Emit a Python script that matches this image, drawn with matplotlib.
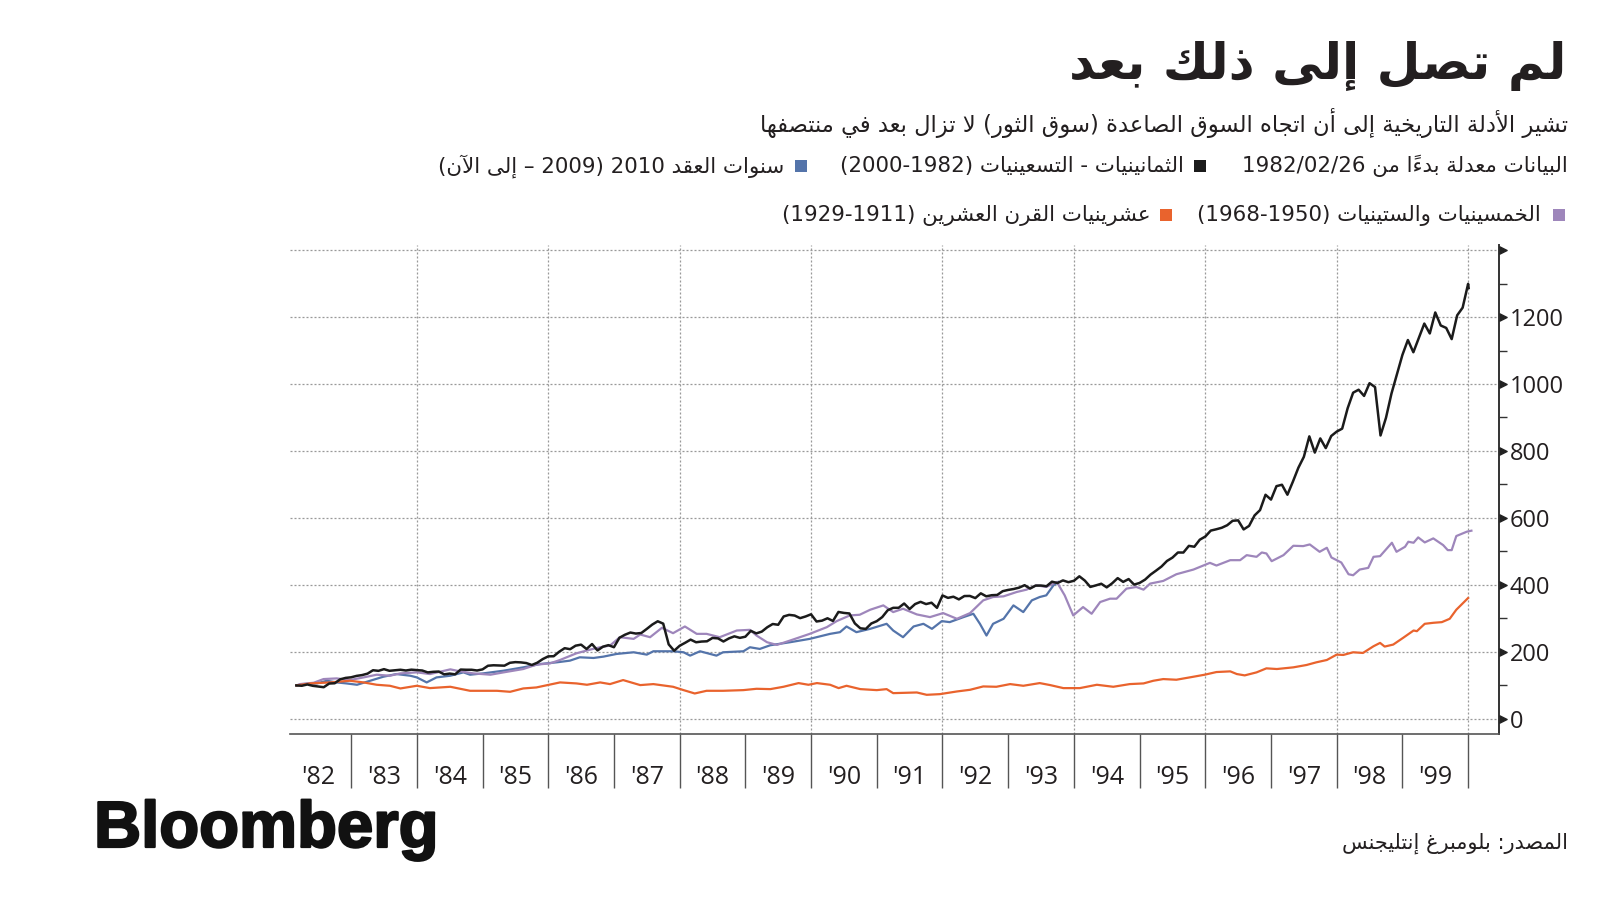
import re
import numpy as np
import matplotlib
matplotlib.use('Agg')
import matplotlib.pyplot as plt
from matplotlib.patches import Rectangle
from matplotlib import patheffects

# ---------------- texts ----------------
title = 'لم تصل إلى ذلك بعد'
subtitle = 'تشير الأدلة التاريخية إلى أن اتجاه السوق الصاعدة (سوق الثور) لا تزال بعد في منتصفها'
note = 'البيانات معدلة بدءاً من 1982/02/26'
name_80s = 'الثمانينيات - التسعينيات (1982-2000)'
name_2010s = 'سنوات العقد 2010 (2009 – إلى الآن)'
name_50s = 'الخمسينيات والستينيات (1950-1968)'
name_20s = 'عشرينيات القرن العشرين (1911-1929)'
source = 'المصدر: بلومبرغ إنتليجنس'

year_labels = ["'82", "'83", "'84", "'85", "'86", "'87", "'88", "'89", "'90",
               "'91", "'92", "'93", "'94", "'95", "'96", "'97", "'98", "'99"]
y_ticks = [0, 200, 400, 600, 800, 1000, 1200, 1400]
y_labels = ['0', '200', '400', '600', '800', '1000', '1200', '']

# ---------------- data (index, 1982/02/26 = 100) ----------------
# 1980s-90s bull market, month ends Feb 1982 .. Dec 1999, then 3 Jan 2000
black_vals = [
    100.0, 99.0, 102.9, 98.9, 96.9, 94.7, 105.7, 106.5, 118.2, 122.5, 124.3,
    128.5, 130.9, 135.2, 145.4, 143.6, 148.6, 143.7, 145.3, 146.8, 144.6, 147.1, 145.8,
    144.5, 138.9, 140.7, 141.5, 133.1, 135.4, 133.2, 147.4, 146.8, 146.8, 144.6, 147.9,
    158.8, 160.2, 159.7, 159.0, 167.6, 169.6, 168.8, 166.8, 161.0, 167.8, 178.7, 186.8,
    187.2, 200.6, 211.2, 208.2, 218.7, 221.8, 208.8, 223.6, 204.5, 215.7, 220.3, 214.1,
    242.3, 251.3, 257.9, 254.9, 256.5, 268.8, 281.7, 291.6, 284.5, 222.6, 203.6, 218.4,
    227.3, 236.8, 228.9, 231.0, 231.8, 241.8, 240.5, 231.2, 240.4, 246.6, 242.0, 245.5,
    263.0, 255.4, 260.7, 273.7, 283.4, 281.1, 306.0, 310.7, 308.7, 300.9, 305.9, 312.4,
    290.9, 293.4, 300.5, 292.5, 319.4, 316.5, 314.9, 285.2, 270.6, 268.8, 284.9, 291.9,
    304.1, 324.5, 331.7, 331.8, 344.6, 328.1, 342.9, 349.6, 342.9, 347.0, 331.7, 368.7,
    361.4, 364.9, 356.9, 366.9, 367.2, 360.8, 375.0, 366.0, 369.4, 370.2, 381.4, 385.2,
    387.9, 392.0, 399.3, 389.2, 398.0, 398.3, 396.2, 409.8, 405.7, 413.6, 408.3, 412.4,
    425.8, 413.0, 394.1, 398.6, 403.6, 392.8, 405.1, 420.4, 409.1, 417.6, 401.1, 406.0,
    415.9, 430.9, 442.7, 455.0, 471.6, 481.6, 496.9, 496.8, 516.7, 514.1, 535.2, 544.5,
    562.3, 566.2, 570.7, 578.3, 591.6, 592.9, 565.8, 576.4, 607.6, 623.5, 669.3, 654.9,
    695.0, 699.2, 669.4, 708.5, 750.0, 782.5, 843.7, 795.2, 837.5, 808.6, 844.7, 857.9,
    866.7, 927.7, 974.1, 982.9, 964.4, 1002.4, 990.8, 846.3, 899.1, 971.3, 1028.8, 1086.8,
    1131.3, 1094.8, 1137.3, 1180.4, 1150.9, 1213.6, 1174.7, 1167.4, 1134.0, 1205.0, 1227.9, 1299.0,
    1286.6,
]
black_t = list(1982 + (np.arange(len(black_vals) - 1) + 2) / 12) + [2000.008]

# 2010s (decimal-year position on the shared axis, value)
blue_t = [1982.17, 1982.27, 1982.48, 1982.63, 1982.78, 1982.93, 1983.09, 1983.29, 1983.49,
          1983.69, 1983.90, 1984.00, 1984.15, 1984.30, 1984.51, 1984.71, 1984.81, 1985.01,
          1985.32, 1985.62, 1985.88, 1986.13, 1986.33, 1986.48, 1986.69, 1986.84, 1987.04,
          1987.30, 1987.50, 1987.60, 1987.90, 1988.06, 1988.16, 1988.31, 1988.56, 1988.66,
          1988.97, 1989.07, 1989.22, 1989.38, 1989.68, 1989.98, 1990.29, 1990.44, 1990.54,
          1990.69, 1990.90, 1991.15, 1991.25, 1991.40, 1991.56, 1991.71, 1991.84, 1991.99,
          1992.11, 1992.32, 1992.47, 1992.57, 1992.67, 1992.77, 1992.93, 1993.08, 1993.23,
          1993.36, 1993.48, 1993.58, 1993.69, 1993.76]
blue_v = [100, 104, 106, 114, 109, 106, 102, 114, 126,
          134, 129, 124, 109, 124, 129, 139, 132, 136,
          144, 154, 164, 169, 174, 184, 182, 186, 194,
          199, 192, 202, 202, 199, 189, 202, 189, 199,
          202, 214, 209, 220, 229, 239, 254, 259, 276,
          259, 269, 284, 264, 244, 276, 284, 269, 292,
          289, 304, 314, 284, 249, 284, 299, 339, 319,
          354, 364, 369, 399, 409]

# 1950s-60s
purple_t = [1982.17, 1982.22, 1982.43, 1982.58, 1982.78, 1982.98, 1983.19, 1983.39, 1983.59,
            1983.75, 1984.00, 1984.20, 1984.51, 1984.66, 1984.86, 1985.12, 1985.32, 1985.62,
            1985.82, 1986.03, 1986.18, 1986.43, 1986.64, 1986.79, 1986.94, 1987.09, 1987.30,
            1987.40, 1987.55, 1987.73, 1987.90, 1988.08, 1988.26, 1988.41, 1988.61, 1988.87,
            1989.07, 1989.17, 1989.33, 1989.48, 1989.68, 1989.98, 1990.24, 1990.39, 1990.59,
            1990.74, 1990.90, 1991.10, 1991.25, 1991.40, 1991.61, 1991.81, 1992.01, 1992.22,
            1992.42, 1992.62, 1992.77, 1992.93, 1993.13, 1993.28, 1993.43, 1993.58, 1993.74,
            1993.86, 1993.99, 1994.14, 1994.27, 1994.40, 1994.55, 1994.65, 1994.80, 1994.95,
            1995.06, 1995.16, 1995.36, 1995.56, 1995.82, 1996.07, 1996.17, 1996.38, 1996.53,
            1996.63, 1996.78, 1996.86, 1996.93, 1997.01, 1997.19, 1997.34, 1997.49, 1997.59,
            1997.74, 1997.85, 1997.92, 1998.07, 1998.18, 1998.25, 1998.35, 1998.48, 1998.56,
            1998.66, 1998.84, 1998.91, 1999.04, 1999.09, 1999.17, 1999.24, 1999.34, 1999.47,
            1999.62, 1999.69, 1999.75, 1999.82, 1999.98, 2000.05]
purple_v = [100, 104, 108, 119, 121, 116, 124, 132, 129,
            136, 139, 134, 148, 142, 136, 132, 139, 149,
            162, 166, 176, 196, 207, 214, 219, 244, 239,
            252, 244, 272, 256, 276, 254, 254, 244, 264,
            266, 249, 229, 221, 234, 254, 274, 292, 309,
            311, 326, 339, 319, 329, 312, 304, 316, 299,
            316, 354, 364, 366, 379, 386, 399, 394, 409,
            369, 309, 334, 314, 349, 359, 359, 389, 394,
            386, 404, 412, 432, 446, 466, 458, 474, 474,
            489, 484, 497, 494, 471, 489, 517, 516, 521,
            499, 511, 482, 467, 432, 429, 446, 451, 484,
            486, 526, 499, 514, 529, 526, 542, 527, 539,
            519, 504, 504, 546, 559, 562]

# 1920s
orange_t = [1982.17, 1982.38, 1982.68, 1982.98, 1983.19, 1983.39, 1983.59, 1983.75, 1984.00,
            1984.20, 1984.51, 1984.81, 1985.22, 1985.42, 1985.62, 1985.82, 1986.18, 1986.43,
            1986.59, 1986.79, 1986.94, 1987.14, 1987.40, 1987.60, 1987.90, 1988.06, 1988.23,
            1988.41, 1988.66, 1988.97, 1989.17, 1989.38, 1989.58, 1989.81, 1989.96, 1990.09,
            1990.29, 1990.42, 1990.54, 1990.75, 1991.00, 1991.15, 1991.25, 1991.61, 1991.76,
            1991.96, 1992.22, 1992.42, 1992.62, 1992.82, 1993.03, 1993.23, 1993.48, 1993.64,
            1993.84, 1994.09, 1994.35, 1994.60, 1994.85, 1995.06, 1995.21, 1995.36, 1995.56,
            1995.82, 1995.99, 1996.17, 1996.38, 1996.48, 1996.60, 1996.78, 1996.93, 1997.09,
            1997.34, 1997.54, 1997.69, 1997.85, 1998.00, 1998.10, 1998.25, 1998.40, 1998.56,
            1998.66, 1998.73, 1998.86, 1999.01, 1999.17, 1999.22, 1999.34, 1999.47, 1999.60,
            1999.72, 1999.82, 2000.00]
orange_v = [100, 106, 109, 114, 109, 102, 99, 91, 99,
            92, 96, 84, 84, 81, 91, 94, 109, 106,
            102, 109, 104, 116, 101, 104, 96, 86, 76,
            84, 84, 86, 90, 89, 96, 107, 102, 107,
            102, 92, 99, 89, 86, 89, 77, 79, 72,
            74, 82, 87, 97, 96, 104, 99, 107, 101,
            92, 92, 102, 96, 104, 106, 114, 119, 117,
            126, 132, 140, 142, 134, 130, 139, 151, 149,
            154, 161, 169, 176, 192, 191, 199, 197, 217,
            227, 216, 222, 242, 264, 262, 284, 287, 289,
            299, 326, 361]

# ---------------- minimal Arabic shaping (matplotlib has no bidi) ----------------
AR = {0x0621: (0xFE80, 1), 0x0622: (0xFE81, 2), 0x0623: (0xFE83, 2), 0x0624: (0xFE85, 2),
      0x0625: (0xFE87, 2), 0x0626: (0xFE89, 4), 0x0627: (0xFE8D, 2), 0x0628: (0xFE8F, 4),
      0x0629: (0xFE93, 2), 0x062A: (0xFE95, 4), 0x062B: (0xFE99, 4), 0x062C: (0xFE9D, 4),
      0x062D: (0xFEA1, 4), 0x062E: (0xFEA5, 4), 0x062F: (0xFEA9, 2), 0x0630: (0xFEAB, 2),
      0x0631: (0xFEAD, 2), 0x0632: (0xFEAF, 2), 0x0633: (0xFEB1, 4), 0x0634: (0xFEB5, 4),
      0x0635: (0xFEB9, 4), 0x0636: (0xFEBD, 4), 0x0637: (0xFEC1, 4), 0x0638: (0xFEC5, 4),
      0x0639: (0xFEC9, 4), 0x063A: (0xFECD, 4), 0x0641: (0xFED1, 4), 0x0642: (0xFED5, 4),
      0x0643: (0xFED9, 4), 0x0644: (0xFEDD, 4), 0x0645: (0xFEE1, 4), 0x0646: (0xFEE5, 4),
      0x0647: (0xFEE9, 4), 0x0648: (0xFEED, 2), 0x0649: (0xFEEF, 2), 0x064A: (0xFEF1, 4)}
LAM_ALEF = {0x0622: 0xFEF5, 0x0623: 0xFEF7, 0x0625: 0xFEF9, 0x0627: 0xFEFB}


def is_mark(c):
    return 0x064B <= ord(c) <= 0x0652


def shape(s):
    n = len(s)
    out, skip = [], set()
    for i, c in enumerate(s):
        if i in skip:
            continue
        if ord(c) not in AR:
            out.append(c)
            continue
        j = i - 1
        while j >= 0 and is_mark(s[j]):
            j -= 1
        join_prev = j >= 0 and ord(s[j]) in AR and AR[ord(s[j])][1] == 4
        k = i + 1
        while k < n and is_mark(s[k]):
            k += 1
        nxt = ord(s[k]) if k < n else None
        if ord(c) == 0x0644 and nxt in LAM_ALEF:
            out.append(chr(LAM_ALEF[nxt] + (1 if join_prev else 0)))
            skip.add(k)
            continue
        base, nf = AR[ord(c)]
        join_next = nf == 4 and nxt in AR and AR[nxt][1] >= 2
        if nf == 1:
            out.append(chr(base))
        elif nf == 2:
            out.append(chr(base + (1 if join_prev else 0)))
        else:
            if join_prev and join_next:
                out.append(chr(base + 3))
            elif join_next:
                out.append(chr(base + 2))
            elif join_prev:
                out.append(chr(base + 1))
            else:
                out.append(chr(base))
    return ''.join(out)


LTR_RUN = re.compile(r'[0-9A-Za-z]+(?:[/.,][0-9A-Za-z]+)*')


def visual(s):
    s = shape(s)
    tokens, i = [], 0
    while i < len(s):
        m = LTR_RUN.match(s, i)
        if m:
            tokens.append(m.group())
            i = m.end()
            continue
        tok = s[i]
        i += 1
        while i < len(s) and is_mark(s[i]):
            tok += s[i]
            i += 1
        tokens.append({'(': ')', ')': '('}.get(tok, tok))
    return ''.join(reversed(tokens))


# ---------------- figure ----------------
W, H = 1600, 900
fig = plt.figure(figsize=(16, 9), dpi=100)
fig.patch.set_facecolor('white')
renderer = fig.canvas.get_renderer()

TXT = '#231f20'
C_BLACK, C_BLUE, C_PURPLE, C_ORANGE = '#1b1b1b', '#5474aa', '#9e86bb', '#e9632d'
GRID = dict(color='#999999', lw=0.9, ls=(0, (1.6, 1.6)), zorder=1)


def px(x, y):
    return x / W, 1 - y / H


def put_ar(s, x_right, y, size, weight='normal'):
    return fig.text(*px(x_right, y), visual(s), ha='right', va='center', fontsize=size,
                    fontweight=weight, color=TXT, family='DejaVu Sans')


def fit_size(s, width, size=16, weight='normal'):
    t = put_ar(s, 0, -100, size, weight)
    w = t.get_window_extent(renderer).width
    t.remove()
    return size * width / w


ax = fig.add_axes([290 / W, 1 - 734 / H, (1499 - 290) / W, (734 - 245) / H])
ax.set_xlim(1982.07, 2000.47)
ax.set_ylim(-45, 1415)

# grid
for yv in y_ticks:
    ax.axhline(yv, **GRID)
for yr in range(1984, 2001, 2):
    ax.axvline(yr, **GRID)

# series
ax.plot(blue_t, blue_v, color=C_BLUE, lw=1.6, zorder=3)
ax.plot(purple_t, purple_v, color=C_PURPLE, lw=1.6, zorder=3)
ax.plot(orange_t, orange_v, color=C_ORANGE, lw=1.6, zorder=3)
ax.plot(black_t, black_vals, color=C_BLACK, lw=1.8, zorder=4)

# spines
for side in ['left', 'top']:
    ax.spines[side].set_visible(False)
ax.spines['right'].set_color('#333333')
ax.spines['right'].set_linewidth(1.4)
ax.spines['bottom'].set_color('#555555')
ax.spines['bottom'].set_linewidth(1.2)

# y axis on the right with triangle markers
ax.yaxis.tick_right()
ax.set_yticks(y_ticks)
ax.set_yticklabels(y_labels)
ax.set_yticks(range(100, 1400, 200), minor=True)
ax.tick_params(axis='y', which='major', length=0, pad=7.5, labelsize=17, labelcolor=TXT)
ax.tick_params(axis='y', which='minor', length=6, width=1, color='#333333', right=True, left=False)
for lab in ax.get_yticklabels():
    lab.set_family('Open Sans')
ax.plot(np.ones(len(y_ticks)), y_ticks, transform=ax.get_yaxis_transform(), ls='none',
        marker=[(0, -1), (2, 0), (0, 1)], ms=11, color='#222222', clip_on=False, zorder=5)

# x axis: long ticks at year boundaries, labels centered in each year
ax.set_xticks(range(1983, 2001))
ax.set_xticklabels([])
ax.set_xticks(np.arange(1982.5, 2000, 1), minor=True)
ax.set_xticklabels(year_labels, minor=True)
ax.tick_params(axis='x', which='major', length=39, width=1, color='#555555')
ax.tick_params(axis='x', which='minor', length=0, pad=22, labelsize=18, labelcolor=TXT)
for lab in ax.get_xticklabels(minor=True):
    lab.set_family('Open Sans')

# ---------------- header / legend / footer ----------------
put_ar(title, 1566, 66, fit_size(title, 497, 34, 'bold'), weight='bold')
put_ar(subtitle, 1568, 123, fit_size(subtitle, 808))

leg_size = fit_size(note, 327)
put_ar(note, 1568, 166, leg_size)
put_ar(name_80s, 1184, 166, leg_size)
put_ar(name_2010s, 784, 166, leg_size)
put_ar(name_50s, 1541, 215, leg_size)
put_ar(name_20s, 1151, 215, leg_size)

sq = 12
for (cx, cy), col in zip([(1200, 166), (801, 166), (1559, 215), (1166, 215)],
                         [C_BLACK, C_BLUE, C_PURPLE, C_ORANGE]):
    fig.patches.append(Rectangle(px(cx - sq / 2, cy + sq / 2), sq / W, sq / H,
                                 transform=fig.transFigure, facecolor=col, edgecolor='none'))

put_ar(source, 1568, 843, fit_size(source, 226))

fig.text(*px(94, 847), 'Bloomberg', fontsize=47, fontweight='bold', family='Liberation Sans',
         color='#111111', va='baseline', ha='left',
         path_effects=[patheffects.withStroke(linewidth=1.6, foreground='#111111')])

fig.savefig('out.png', dpi=100, facecolor='white')
